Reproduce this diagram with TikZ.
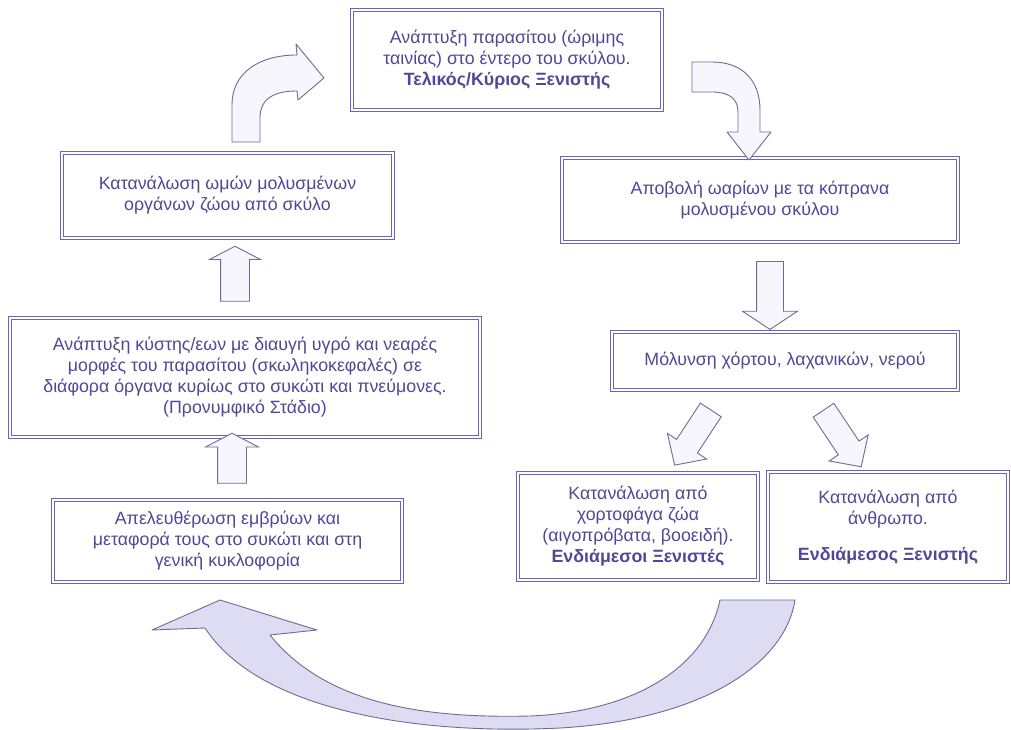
\documentclass[tikz,border=0pt]{standalone}
\usepackage{fontspec}
\setmainfont{Liberation Sans}
\usetikzlibrary{shapes.arrows}

\definecolor{boxline}{RGB}{108,96,196}
\definecolor{boxtext}{RGB}{78,72,150}
\definecolor{arrowline}{RGB}{110,108,150}
\definecolor{arrowfill}{RGB}{246,246,252}
\definecolor{bigfill}{RGB}{222,220,242}

\begin{document}
\begin{tikzpicture}[x=1pt, y=-1pt,
  every node/.style={align=center, text=boxtext, font=\fontsize{17.8}{21}\selectfont},
  stage/.style={draw=boxline, double=white, double distance=1.6pt, line width=1.1pt, inner sep=0pt},
  blockarrow/.style={single arrow, draw=arrowline, fill=arrowfill, line width=0.9pt, inner xsep=0pt, single arrow head indent=0pt},
  bendarrow/.style={draw=arrowline, fill=arrowfill, line width=0.9pt, line join=round}]
\useasboundingbox (0,0) rectangle (1011,730);

\node[stage, minimum width=310pt, minimum height=100pt] (telikos) at (507,60) {Ανάπτυξη παρασίτου (ώριμης\\ ταινίας) στο έντερο του σκύλου.\\ \textbf{Τελικός/Κύριος Ξενιστής}};
\node[stage, minimum width=331pt, minimum height=85pt] (katanalosi) at (227.5,195.5) {Κατανάλωση ωμών μολυσμένων\\ οργάνων ζώου από σκύλο};
\node[stage, minimum width=396pt, minimum height=84pt] (apovoli) at (760,200) {Αποβολή ωαρίων με τα κόπρανα\\ μολυσμένου σκύλου};
\node[stage, minimum width=346pt, minimum height=58pt] (molynsi) at (785,361) {Μόλυνση χόρτου, λαχανικών, νερού};
\node[stage, minimum width=470pt, minimum height=119pt] (kystis) at (245,377.5) {Ανάπτυξη κύστης/εων με διαυγή υγρό και νεαρές\\ μορφές του παρασίτου (σκωληκοκεφαλές) σε\\ διάφορα όργανα κυρίως στο συκώτι και πνεύμονες.\\ (Προνυμφικό Στάδιο)};
\node[stage, minimum width=349pt, minimum height=82pt] (apeleftherosi) at (227.5,541) {Απελευθέρωση εμβρύων και\\ μεταφορά τους στο συκώτι και στη\\ γενική κυκλοφορία};
\node[stage, minimum width=240pt, minimum height=107pt] (xortofaga) at (638,526.5) {Κατανάλωση από\\ χορτοφάγα ζώα\\ (αιγοπρόβατα, βοοειδή).\\ \textbf{Ενδιάμεσοι Ξενιστές}};
\node[stage, minimum width=240pt, minimum height=110pt] (anthropos) at (888,527) {Κατανάλωση από\\ άνθρωπο.\\[15pt] \textbf{Ενδιάμεσος Ξενιστής}};

\node[blockarrow, minimum height=55pt, inner ysep=14pt, single arrow head extend=11pt, single arrow tip angle=125, rotate=90] (upkatanalosi) at (235,277.5) {};
\node[blockarrow, minimum height=50pt, inner ysep=14pt, single arrow head extend=12pt, single arrow tip angle=125, rotate=90] (upkystis) at (232,462) {};
\node[blockarrow, minimum height=68pt, inner ysep=13pt, single arrow head extend=14pt, single arrow tip angle=113, rotate=-90] (downmolynsi) at (770,291) {};
\node[blockarrow, minimum height=66pt, inner ysep=12pt, single arrow head extend=11pt, single arrow tip angle=92, rotate=236.8] (toxortofaga) at (696,432.5) {};
\node[blockarrow, minimum height=68pt, inner ysep=12pt, single arrow head extend=11pt, single arrow tip angle=92, rotate=-56.3] (toanthropos) at (839,433.5) {};

\draw[bendarrow] (232,142) -- (232,105) .. controls (232,72) and (260,55) .. (297,55) -- (296,44) -- (324,78) -- (298,100) -- (297,91) .. controls (275,91) and (260,98) .. (260,118) -- (260,142) -- cycle;
\draw[bendarrow] (692,62) -- (712,62) .. controls (742,62) and (760,80) .. (760,110) -- (760,132) -- (771,132) -- (749,160) -- (727,132) -- (738,132) -- (738,112) .. controls (738,98) and (728,92) .. (712,92) -- (692,92) -- cycle;
\draw[bendarrow, fill=bigfill] (720,600) -- (795,600) .. controls (785,665) and (700,720) .. (560,728) .. controls (420,735) and (260,712) .. (205,628) -- (152,630) -- (220,600) -- (317,630) -- (270,635) .. controls (330,710) and (440,718) .. (530,716) .. controls (630,712) and (705,670) .. (720,600) -- cycle;
\end{tikzpicture}
\end{document}
